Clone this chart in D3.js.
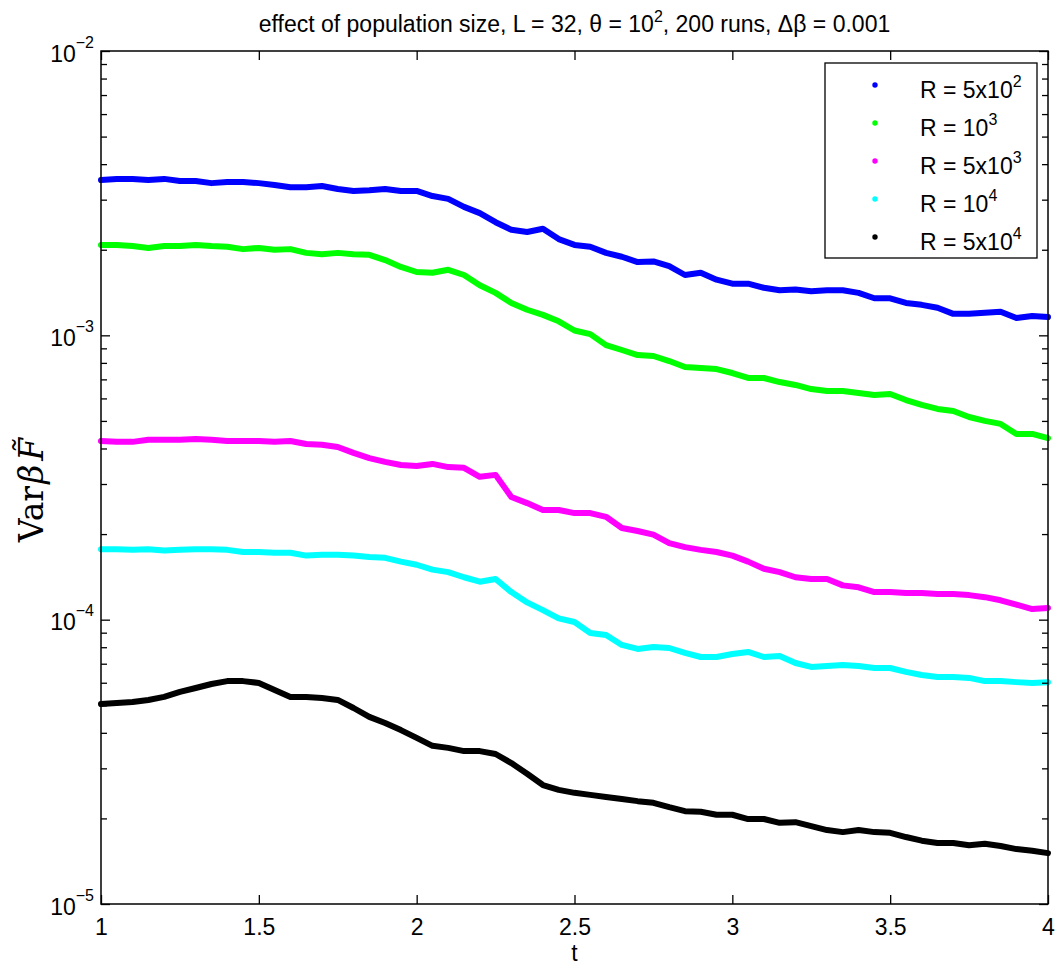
<!DOCTYPE html>
<html>
<head>
<meta charset="utf-8">
<script src="https://cdn.jsdelivr.net/npm/d3@7"></script>
<style>
  body { margin: 0; background: #fff; }
  text { font-family: "Liberation Sans", Arial, Helvetica, sans-serif; }
</style>
</head>
<body>
<svg width="1057" height="969"></svg>
<script>
(function() {

  // sample times (read every 0.05 along t)
  var tValues = [1.00, 1.05, 1.10, 1.15, 1.20, 1.25, 1.30, 1.35, 1.40, 1.45,
                 1.50, 1.55, 1.60, 1.65, 1.70, 1.75, 1.80, 1.85, 1.90, 1.95,
                 2.00, 2.05, 2.10, 2.15, 2.20, 2.25, 2.30, 2.35, 2.40, 2.45,
                 2.50, 2.55, 2.60, 2.65, 2.70, 2.75, 2.80, 2.85, 2.90, 2.95,
                 3.00, 3.05, 3.10, 3.15, 3.20, 3.25, 3.30, 3.35, 3.40, 3.45,
                 3.50, 3.55, 3.60, 3.65, 3.70, 3.75, 3.80, 3.85, 3.90, 3.95,
                 4.00];

  // R = 5x10^2
  var varR500 = [3.52e-3, 3.55e-3, 3.55e-3, 3.52e-3, 3.55e-3, 3.49e-3, 3.49e-3, 3.43e-3, 3.46e-3, 3.46e-3,
                 3.43e-3, 3.38e-3, 3.32e-3, 3.32e-3, 3.35e-3, 3.27e-3, 3.22e-3, 3.24e-3, 3.27e-3, 3.22e-3,
                 3.22e-3, 3.09e-3, 3.02e-3, 2.83e-3, 2.69e-3, 2.50e-3, 2.35e-3, 2.31e-3, 2.37e-3, 2.18e-3,
                 2.08e-3, 2.05e-3, 1.95e-3, 1.89e-3, 1.81e-3, 1.82e-3, 1.75e-3, 1.63e-3, 1.66e-3, 1.57e-3,
                 1.52e-3, 1.52e-3, 1.47e-3, 1.44e-3, 1.45e-3, 1.43e-3, 1.44e-3, 1.44e-3, 1.41e-3, 1.35e-3,
                 1.35e-3, 1.30e-3, 1.28e-3, 1.25e-3, 1.19e-3, 1.19e-3, 1.20e-3, 1.21e-3, 1.15e-3, 1.17e-3,
                 1.16e-3];

  // R = 10^3
  var varR1000 = [2.08e-3, 2.08e-3, 2.06e-3, 2.03e-3, 2.06e-3, 2.06e-3, 2.08e-3, 2.06e-3, 2.05e-3, 2.01e-3,
                  2.03e-3, 2.00e-3, 2.01e-3, 1.95e-3, 1.93e-3, 1.95e-3, 1.93e-3, 1.92e-3, 1.84e-3, 1.74e-3,
                  1.67e-3, 1.66e-3, 1.70e-3, 1.63e-3, 1.50e-3, 1.41e-3, 1.30e-3, 1.23e-3, 1.18e-3, 1.12e-3,
                  1.04e-3, 1.01e-3, 9.24e-4, 8.88e-4, 8.52e-4, 8.46e-4, 8.12e-4, 7.74e-4, 7.67e-4, 7.61e-4,
                  7.37e-4, 7.08e-4, 7.08e-4, 6.85e-4, 6.69e-4, 6.47e-4, 6.37e-4, 6.37e-4, 6.27e-4, 6.17e-4,
                  6.22e-4, 5.92e-4, 5.69e-4, 5.51e-4, 5.42e-4, 5.16e-4, 5.00e-4, 4.88e-4, 4.50e-4, 4.50e-4,
                  4.35e-4];

  // R = 5x10^3
  var varR5000 = [4.25e-4, 4.22e-4, 4.22e-4, 4.29e-4, 4.29e-4, 4.29e-4, 4.32e-4, 4.29e-4, 4.25e-4, 4.25e-4,
                  4.25e-4, 4.22e-4, 4.25e-4, 4.15e-4, 4.12e-4, 4.05e-4, 3.86e-4, 3.70e-4, 3.59e-4, 3.50e-4,
                  3.47e-4, 3.53e-4, 3.44e-4, 3.42e-4, 3.18e-4, 3.23e-4, 2.70e-4, 2.57e-4, 2.43e-4, 2.43e-4,
                  2.37e-4, 2.37e-4, 2.30e-4, 2.10e-4, 2.05e-4, 1.99e-4, 1.86e-4, 1.80e-4, 1.76e-4, 1.73e-4,
                  1.68e-4, 1.60e-4, 1.51e-4, 1.47e-4, 1.41e-4, 1.39e-4, 1.39e-4, 1.32e-4, 1.30e-4, 1.25e-4,
                  1.25e-4, 1.24e-4, 1.24e-4, 1.23e-4, 1.23e-4, 1.22e-4, 1.20e-4, 1.17e-4, 1.13e-4, 1.09e-4,
                  1.10e-4];

  // R = 10^4
  var varR10000 = [1.77e-4, 1.77e-4, 1.76e-4, 1.77e-4, 1.75e-4, 1.76e-4, 1.77e-4, 1.77e-4, 1.76e-4, 1.73e-4,
                   1.73e-4, 1.72e-4, 1.72e-4, 1.68e-4, 1.69e-4, 1.69e-4, 1.68e-4, 1.66e-4, 1.65e-4, 1.60e-4,
                   1.56e-4, 1.50e-4, 1.47e-4, 1.41e-4, 1.36e-4, 1.39e-4, 1.25e-4, 1.15e-4, 1.08e-4, 1.01e-4,
                   9.81e-5, 8.98e-5, 8.83e-5, 8.15e-5, 7.89e-5, 8.02e-5, 7.95e-5, 7.64e-5, 7.39e-5, 7.39e-5,
                   7.57e-5, 7.70e-5, 7.39e-5, 7.45e-5, 7.04e-5, 6.82e-5, 6.87e-5, 6.93e-5, 6.87e-5, 6.76e-5,
                   6.76e-5, 6.55e-5, 6.39e-5, 6.29e-5, 6.29e-5, 6.24e-5, 6.08e-5, 6.08e-5, 6.03e-5, 5.99e-5,
                   6.03e-5];

  // R = 5x10^4
  var varR50000 = [5.05e-5, 5.09e-5, 5.13e-5, 5.22e-5, 5.35e-5, 5.57e-5, 5.75e-5, 5.94e-5, 6.08e-5, 6.08e-5,
                   5.99e-5, 5.66e-5, 5.35e-5, 5.35e-5, 5.30e-5, 5.22e-5, 4.89e-5, 4.55e-5, 4.33e-5, 4.09e-5,
                   3.84e-5, 3.60e-5, 3.54e-5, 3.45e-5, 3.45e-5, 3.37e-5, 3.13e-5, 2.87e-5, 2.62e-5, 2.52e-5,
                   2.46e-5, 2.42e-5, 2.38e-5, 2.34e-5, 2.30e-5, 2.27e-5, 2.19e-5, 2.12e-5, 2.11e-5, 2.06e-5,
                   2.06e-5, 1.99e-5, 1.99e-5, 1.93e-5, 1.94e-5, 1.88e-5, 1.82e-5, 1.79e-5, 1.82e-5, 1.79e-5,
                   1.78e-5, 1.72e-5, 1.67e-5, 1.64e-5, 1.64e-5, 1.61e-5, 1.63e-5, 1.60e-5, 1.56e-5, 1.54e-5,
                   1.51e-5];

  var seriesValues = [varR500, varR1000, varR5000, varR10000, varR50000];
  var seriesColors = ['#0000ff', '#00ff00', '#ff00ff', '#00ffff', '#000000'];
  var legendBase = ['R = 5x10', 'R = 10', 'R = 5x10', 'R = 10', 'R = 5x10'];
  var legendExp = ['2', '3', '3', '4', '4'];

  var xTicks = [1, 1.5, 2, 2.5, 3, 3.5, 4];
  var xTickLabels = ['1', '1.5', '2', '2.5', '3', '3.5', '4'];
  var yTicks = [1e-5, 1e-4, 1e-3, 1e-2];
  var yTickExp = ['\u22125', '\u22124', '\u22123', '\u22122'];

  var svg = d3.select('svg');
  var left = 101, right = 1048, top = 51, bottom = 904;

  svg.append('rect').attr('width', 1057).attr('height', 969).attr('fill', '#fff');

  var x = d3.scaleLinear().domain([1, 4]).range([left, right]);
  var y = d3.scaleLog().domain([1e-5, 1e-2]).range([bottom, top]);

  // curves
  var line = d3.line()
      .x(function(d, i) { return x(tValues[i]); })
      .y(function(d) { return y(d); });

  svg.selectAll('.curve').data(seriesValues)
    .enter().append('path')
      .attr('class', 'curve')
      .attr('d', line)
      .attr('fill', 'none')
      .attr('stroke', function(d, i) { return seriesColors[i]; })
      .attr('stroke-width', 6)
      .attr('stroke-linejoin', 'round')
      .attr('stroke-linecap', 'round');

  // axes, ticks pointing inward like matlab
  var minorTicks = y.ticks().filter(function(v) { return yTicks.indexOf(v) < 0; });

  var xb = svg.append('g').attr('transform', 'translate(0,' + bottom + ')')
    .call(d3.axisBottom(x).tickValues(xTicks).tickSize(-9).tickPadding(15)
      .tickFormat(function(d, i) { return xTickLabels[i]; }));
  svg.append('g').attr('transform', 'translate(0,' + top + ')')
    .call(d3.axisTop(x).tickValues(xTicks).tickSize(-9).tickFormat(''));

  var yl = svg.append('g').attr('transform', 'translate(' + left + ',0)')
    .call(d3.axisLeft(y).tickValues(yTicks).tickSize(-9).tickPadding(7).tickFormat(''));
  svg.append('g').attr('transform', 'translate(' + left + ',0)')
    .call(d3.axisLeft(y).tickValues(minorTicks).tickSize(-6).tickFormat(''));
  svg.append('g').attr('transform', 'translate(' + right + ',0)')
    .call(d3.axisRight(y).tickValues(yTicks).tickSize(-9).tickFormat(''));
  svg.append('g').attr('transform', 'translate(' + right + ',0)')
    .call(d3.axisRight(y).tickValues(minorTicks).tickSize(-6).tickFormat(''));

  svg.selectAll('.domain').remove();
  svg.selectAll('.tick line').attr('stroke', '#000').attr('stroke-width', 1.3);

  xb.selectAll('text').attr('font-size', 23).attr('fill', '#000')
    .style('font-family', '"Liberation Sans", Arial, sans-serif');

  yl.selectAll('.tick').each(function(d, i) {
    var t = d3.select(this).select('text')
      .attr('x', -7).attr('dy', null).attr('y', 10)
      .attr('font-size', 23).attr('fill', '#000')
      .style('font-family', '"Liberation Sans", Arial, sans-serif');
    t.append('tspan').text('10');
    t.append('tspan').attr('dy', -14).attr('font-size', 16).text(yTickExp[i]);
  });

  // frame
  svg.append('rect')
    .attr('x', left).attr('y', top)
    .attr('width', right - left).attr('height', bottom - top)
    .attr('fill', 'none').attr('stroke', '#000').attr('stroke-width', 1.5);

  // title
  var title = svg.append('text')
    .attr('x', (left + right) / 2).attr('y', 32)
    .attr('text-anchor', 'middle').attr('font-size', 23);
  title.append('tspan').text('effect of population size, L = 32, \u03b8 = 10');
  title.append('tspan').attr('dy', -10).attr('font-size', 16).text('2');
  title.append('tspan').attr('dy', 10).text(', 200 runs, \u0394\u03b2 = 0.001');

  // x label
  svg.append('text')
    .attr('x', (left + right) / 2).attr('y', 961)
    .attr('text-anchor', 'middle').attr('font-size', 23)
    .text('t');

  // y label
  var ylab = svg.append('text')
    .attr('transform', 'translate(43,490) rotate(-90)')
    .attr('text-anchor', 'middle').attr('font-size', 33)
    .style('font-family', '"DejaVu Serif", "Liberation Serif", serif');
  ylab.append('tspan').text('Var');
  ylab.append('tspan').attr('font-style', 'italic').attr('dx', 2).text('\u03b2');
  ylab.append('tspan').attr('font-style', 'italic').attr('dx', 4).text('F\u0303');

  // legend
  var lg = svg.append('g');
  lg.append('rect')
    .attr('x', 825).attr('y', 63).attr('width', 212).attr('height', 195)
    .attr('fill', '#fff').attr('stroke', '#000').attr('stroke-width', 1.3);

  var items = lg.selectAll('.item').data(seriesColors)
    .enter().append('g')
      .attr('class', 'item')
      .attr('transform', function(d, i) { return 'translate(0,' + (85 + i * 38) + ')'; });

  items.append('circle')
    .attr('cx', 875).attr('cy', 0).attr('r', 2.7)
    .attr('fill', function(d) { return d; });

  var lt = items.append('text')
    .attr('x', 920).attr('y', 13).attr('font-size', 23);
  lt.append('tspan').text(function(d, i) { return legendBase[i]; });
  lt.append('tspan').attr('dy', -11).attr('font-size', 16)
    .text(function(d, i) { return legendExp[i]; });

})();
</script>
</body>
</html>
